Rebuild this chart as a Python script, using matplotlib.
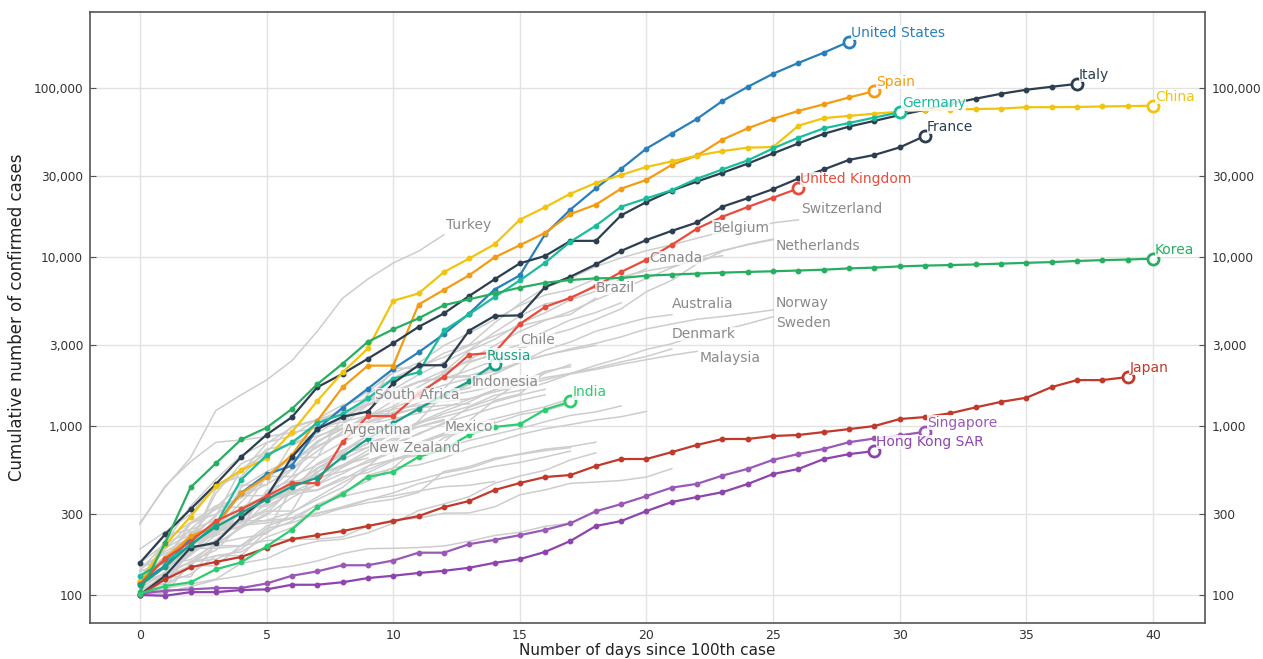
import numpy as np
import matplotlib.pyplot as plt
from matplotlib.ticker import FixedLocator, FixedFormatter, NullLocator

# cumulative confirmed cases, one value per day since the 100th case
united_states = [118, 149, 217, 262, 402, 518, 583, 959, 1281, 1663, 2179, 2726, 3499, 4632, 6421,
                 7786, 13680, 19101, 25493, 33276, 43847, 53740, 65778, 83836, 101657, 121478,
                 140886, 161807, 188172]
spain = [120, 165, 222, 259, 400, 500, 673, 1073, 1695, 2277, 2277, 5232, 6391, 7798, 9942, 11748,
         13910, 17963, 20410, 25374, 28603, 35136, 39885, 49515, 57786, 65719, 73235, 80110, 87956, 95923]
italy = [155, 229, 322, 453, 655, 888, 1128, 1694, 2036, 2502, 3089, 3858, 4636, 5883, 7375, 9172,
         10149, 12462, 12462, 17660, 21157, 24747, 27980, 31506, 35713, 41035, 47021, 53578, 59138,
         63927, 69176, 74386, 80589, 86498, 92472, 97689, 101739, 105792]
china = [121, 198, 291, 440, 548, 643, 920, 1406, 2075, 2877, 5509, 6087, 8141, 9802, 11891, 16630,
         19716, 23707, 27440, 30587, 34110, 36814, 39829, 42354, 44386, 44759, 59895, 66358, 68413,
         70513, 72434, 74211, 74619, 75077, 75550, 77001, 77022, 77241, 77754, 78166, 78600]
germany = [130, 159, 196, 262, 482, 670, 799, 1040, 1176, 1457, 1908, 2078, 3675, 4585, 5795, 7272,
           9257, 12327, 15320, 19848, 22213, 24873, 29056, 32986, 37323, 43938, 50871, 57695, 62095,
           66885, 71808]
france = [100, 130, 191, 204, 288, 380, 656, 957, 1134, 1217, 1792, 2289, 2289, 3672, 4480, 4513,
          6650, 7652, 9043, 10871, 12612, 14282, 16018, 19856, 22304, 25233, 29155, 32964, 37575,
          40174, 44550, 52128]
united_kingdom = [116, 164, 207, 274, 322, 384, 459, 459, 802, 1144, 1145, 1551, 1960, 2642, 2716,
                  4014, 5067, 5745, 6726, 8164, 9640, 11812, 14745, 17312, 19780, 22453, 25481]
korea = [104, 204, 433, 602, 833, 977, 1261, 1766, 2337, 3150, 3736, 4335, 5186, 5621, 6088, 6593,
         7041, 7314, 7478, 7513, 7755, 7869, 7979, 8086, 8162, 8236, 8320, 8413, 8565, 8652, 8799,
         8897, 8961, 9037, 9137, 9241, 9332, 9478, 9583, 9661, 9786]
japan = [100, 124, 146, 157, 168, 190, 214, 226, 239, 256, 274, 293, 331, 360, 418, 460, 499, 513,
         580, 638, 638, 701, 773, 838, 838, 873, 885, 921, 959, 1000, 1100, 1130, 1190, 1290, 1390,
         1470, 1700, 1870, 1870, 1950]
singapore = [102, 106, 108, 110, 110, 117, 130, 138, 150, 150, 160, 178, 178, 200, 212, 226, 243,
             266, 313, 345, 385, 432, 455, 509, 558, 631, 683, 732, 802, 844, 879, 926]
hong_kong = [100, 99, 104, 104, 107, 108, 115, 115, 119, 126, 130, 135, 139, 145, 155, 163, 180,
             209, 256, 274, 314, 355, 380, 406, 454, 520, 557, 638, 682, 711]
russia = [114, 147, 199, 253, 306, 367, 438, 495, 658, 840, 1036, 1264, 1534, 1836, 2337]
india = [102, 113, 119, 142, 156, 194, 244, 330, 396, 499, 536, 657, 727, 887, 987, 1024, 1251, 1397]

# grey countries with a name on the chart
turkey = [267, 435, 650, 1236, 1529, 1872, 2433, 3629, 5698, 7402, 9217, 10827, 13531]
switzerland = [114, 214, 268, 337, 374, 491, 652, 652, 1139, 1359, 2200, 2200, 2700, 3028, 4075,
               5294, 6575, 7474, 8795, 9877, 10897, 11811, 12928, 14076, 14829, 15922, 16605]
belgium = [109, 169, 200, 239, 267, 314, 314, 559, 689, 886, 1058, 1243, 1486, 1795, 2257, 2815,
           3401, 3743, 4269, 4937, 6235, 7284, 9134, 10836, 11899, 12775]
netherlands = [128, 188, 265, 321, 382, 503, 503, 806, 962, 1138, 1413, 1705, 2051, 2460, 2994,
               3631, 4216, 4764, 5580, 6438, 7468, 8647, 9819, 10930, 11817, 12667]
canada = [108, 117, 193, 198, 252, 415, 478, 657, 800, 943, 1277, 1469, 2088, 2790, 3251, 4042,
          4682, 5576, 6280, 7398, 8527]
brazil = [151, 151, 162, 200, 321, 372, 621, 793, 1021, 1546, 1924, 2247, 2554, 2985, 3417, 3904,
          4256, 4579, 5717]
australia = [107, 128, 128, 200, 250, 297, 377, 452, 568, 681, 791, 1071, 1549, 1682, 2044, 2364,
             2810, 3143, 3640, 3984, 4361, 4559]
norway = [147, 176, 205, 400, 598, 702, 996, 1090, 1221, 1333, 1463, 1550, 1746, 1914, 2118, 2385,
          2621, 2863, 3084, 3369, 3755, 4015, 4284, 4445, 4641, 4863]
sweden = [137, 161, 203, 248, 355, 500, 599, 814, 961, 1022, 1103, 1190, 1279, 1439, 1639, 1763,
          1934, 2046, 2286, 2526, 2840, 3069, 3447, 3700, 4028, 4435]
denmark = [262, 442, 615, 801, 827, 864, 914, 977, 1057, 1151, 1255, 1326, 1395, 1450, 1591, 1724,
           1877, 2046, 2201, 2395, 2577, 2860]
malaysia = [117, 129, 149, 149, 197, 238, 428, 566, 673, 790, 900, 1030, 1183, 1306, 1518, 1624,
            1796, 2031, 2161, 2320, 2470, 2626, 2766]
chile = [155, 201, 238, 238, 434, 537, 632, 746, 922, 1142, 1306, 1610, 1909, 2139, 2449, 2738]
indonesia = [117, 134, 172, 227, 311, 369, 450, 514, 579, 686, 790, 893, 1046, 1155, 1285, 1414, 1528]
south_africa = [116, 150, 202, 240, 274, 402, 554, 709, 927, 1170, 1187, 1280, 1326, 1353]
argentina = [128, 158, 266, 301, 387, 387, 502, 589, 690, 745, 820, 1054]
mexico = [118, 164, 203, 251, 316, 367, 405, 475, 585, 717, 848, 993, 1094]
new_zealand = [102, 102, 155, 205, 283, 368, 451, 514, 589, 647]

# grey countries without a name
austria = [104, 131, 182, 246, 302, 504, 655, 860, 1018, 1332, 1646, 2013, 2388, 2814, 3582, 4474,
           5283, 5588, 6909, 7657, 8271, 8788, 9618, 10180]
portugal = [112, 169, 245, 331, 448, 448, 785, 1020, 1280, 1600, 2060, 2362, 2995, 3544, 4268, 5170,
            5962, 6408, 7443]
israel = [100, 126, 193, 200, 250, 304, 427, 529, 712, 883, 1071, 1238, 1656, 2369, 2693, 3035,
          3619, 4247, 4695, 5358]
ireland = [129, 169, 223, 292, 557, 683, 785, 906, 1125, 1329, 1564, 1819, 2121, 2415, 2615, 2910, 3235]
poland = [104, 125, 177, 238, 251, 355, 425, 536, 634, 749, 901, 1051, 1221, 1389, 1638, 1862, 2055, 2311]
czechia = [116, 150, 214, 298, 383, 450, 560, 765, 889, 1047, 1161, 1287, 1472, 1763, 2022, 2395,
           2631, 2817, 3001]
luxembourg = [140, 203, 335, 484, 670, 798, 875, 1099, 1333, 1453, 1605, 1831, 1950, 1988, 2178]
thailand = [114, 147, 177, 212, 272, 322, 411, 599, 721, 827, 934, 1045, 1136, 1245, 1388, 1524, 1651]
finland = [155, 225, 244, 277, 321, 336, 400, 450, 523, 626, 700, 792, 880, 958, 1041, 1167, 1240, 1352]
philippines = [140, 142, 187, 202, 217, 230, 307, 380, 462, 552, 636, 707, 803, 1075, 1418, 1546, 2084]
pakistan = [187, 237, 301, 454, 501, 730, 776, 875, 972, 1063, 1201, 1373, 1495, 1597, 1717, 1938]
saudi_arabia = [103, 118, 133, 171, 171, 238, 274, 344, 392, 511, 562, 767, 900, 1012, 1104, 1203,
                1299, 1453, 1563]
romania = [123, 131, 158, 184, 260, 277, 308, 367, 433, 576, 762, 906, 1029, 1292, 1452, 1815, 2109, 2245]
greece = [117, 190, 228, 331, 331, 387, 418, 418, 495, 530, 624, 695, 743, 821, 892, 966, 1061,
          1156, 1212, 1314]
iceland = [103, 134, 156, 171, 180, 220, 250, 330, 409, 473, 568, 588, 648, 737, 802, 890, 963,
           1020, 1086, 1135, 1220]
bahrain = [109, 110, 189, 189, 195, 210, 214, 214, 221, 256, 278, 285, 305, 306, 332, 392, 419, 458,
           466, 476, 499, 560]
kuwait = [100, 104, 112, 123, 130, 142, 148, 159, 176, 188, 189, 191, 195, 208, 225, 235, 255, 266]
egypt = [109, 110, 150, 196, 196, 256, 285, 294, 327, 366, 402, 456, 495, 536, 576, 609, 656, 710]
iraq = [101, 110, 116, 124, 154, 164, 192, 208, 214, 233, 266, 316, 346, 382, 458, 506, 547, 630, 694]
slovenia = [141, 181, 219, 253, 275, 275, 286, 341, 383, 414, 442, 480, 528, 562, 632, 684, 730, 756, 802]
estonia = [115, 171, 205, 225, 258, 267, 283, 306, 326, 352, 369, 404, 538, 575, 645, 679, 715, 745]
peru = [117, 145, 234, 234, 318, 363, 395, 416, 480, 580, 635, 671, 852, 950, 1065]
colombia = [102, 128, 196, 231, 277, 378, 470, 491, 539, 608, 702, 798, 906]
ecuador = [111, 168, 199, 426, 532, 789, 981, 1082, 1173, 1403, 1595, 1823, 1924, 1962, 2240]
lebanon = [120, 133, 157, 163, 187, 248, 267, 304, 333, 368, 386, 412, 438, 446, 470]
panama = [109, 137, 200, 245, 313, 345, 443, 558, 674, 786, 901, 989, 1075]

highlighted = {'United States': united_states, 'Spain': spain, 'Italy': italy, 'China': china,
               'Germany': germany, 'France': france, 'United Kingdom': united_kingdom,
               'Korea': korea, 'Japan': japan, 'Singapore': singapore, 'Hong Kong SAR': hong_kong,
               'Russia': russia, 'India': india}
named_grey = {'Turkey': turkey, 'Switzerland': switzerland, 'Belgium': belgium,
              'Netherlands': netherlands, 'Canada': canada, 'Brazil': brazil,
              'Australia': australia, 'Norway': norway, 'Sweden': sweden, 'Denmark': denmark,
              'Malaysia': malaysia, 'Chile': chile, 'Indonesia': indonesia,
              'South Africa': south_africa, 'Argentina': argentina, 'Mexico': mexico,
              'New Zealand': new_zealand}
other_grey = [austria, portugal, israel, ireland, poland, czechia, luxembourg, thailand, finland,
              philippines, pakistan, saudi_arabia, romania, greece, iceland, bahrain, kuwait, egypt,
              iraq, slovenia, estonia, peru, colombia, ecuador, lebanon, panama]

x_ticks = [0, 5, 10, 15, 20, 25, 30, 35, 40]
y_ticks = [100, 300, 1000, 3000, 10000, 30000, 100000]
y_tick_labels = ['100', '300', '1,000', '3,000', '10,000', '30,000', '100,000']

colors = {'United States': '#2980b9', 'Spain': '#f39c12', 'Italy': '#2c3e50', 'China': '#f1c40f',
          'Germany': '#1abc9c', 'France': '#2c3e50', 'United Kingdom': '#e74c3c',
          'Korea': '#27ae60', 'Japan': '#c0392b', 'Singapore': '#9b59b6',
          'Hong Kong SAR': '#8e44ad', 'Russia': '#16a085', 'India': '#2ecc71'}
label_shift = {'Russia': (-8, 8)}

# where the grey names sit (day, cases)
grey_label_at = {'Turkey': (12.1, 15500), 'Switzerland': (26.1, 19200), 'Belgium': (22.6, 14900),
                 'Netherlands': (25.1, 11600), 'Canada': (20.1, 9860), 'Brazil': (18.0, 6560),
                 'Australia': (21.0, 5270), 'Norway': (25.1, 5350), 'Sweden': (25.1, 4070),
                 'Denmark': (21.0, 3500), 'Malaysia': (22.1, 2520), 'Chile': (15.0, 3230),
                 'Indonesia': (13.1, 1820), 'South Africa': (9.3, 1520), 'Argentina': (8.05, 946),
                 'Mexico': (12.05, 986), 'New Zealand': (9.05, 741)}

fig = plt.figure(figsize=(12.63, 6.59), dpi=100)
ax = fig.add_axes([90 / 1263, 1 - 623 / 659, 1115 / 1263, 611 / 659])
ax.set_yscale('log')

for vals in other_grey + list(named_grey.values()):
    ax.plot(np.arange(len(vals)), vals, color='#cdcdcd', lw=1.1, zorder=2)

for name, (dx, cy) in grey_label_at.items():
    ax.text(dx, cy, name, color='#8a8a8a', fontsize=10, ha='left', va='center', zorder=5,
            bbox=dict(facecolor='white', edgecolor='none', pad=0.3, alpha=0.75))

for name, vals in highlighted.items():
    c = colors[name]
    days = np.arange(len(vals))
    ax.plot(days, vals, color=c, lw=1.6, marker='o', ms=3.2, zorder=3)
    ax.plot(days[-1], vals[-1], 'o', ms=8, mfc='white', mec=c, mew=2, zorder=4)
    ax.annotate(name, (days[-1], vals[-1]), xytext=label_shift.get(name, (2, 9)),
                textcoords='offset pixels', color=c, fontsize=10, ha='left', va='center',
                zorder=6, bbox=dict(facecolor='white', edgecolor='none', pad=0.3, alpha=0.85))

ax.set_xlim(-1.97, 42.05)
ax.set_ylim(68.3, 281700)
ax.xaxis.set_major_locator(FixedLocator(x_ticks))
ax.yaxis.set_major_locator(FixedLocator(y_ticks))
ax.yaxis.set_major_formatter(FixedFormatter(y_tick_labels))
ax.yaxis.set_minor_locator(NullLocator())
ax.tick_params(axis='y', which='both', direction='in', length=4, color='#555555',
               labelsize=8.7, labelcolor='#333333', left=True, right=True,
               labelleft=True, labelright=True, pad=5)
ax.tick_params(axis='x', direction='in', length=0, labelsize=9, labelcolor='#333333', pad=4)
ax.grid(True, color='#e2e2e2', lw=1)
ax.set_axisbelow(True)
for s in ax.spines.values():
    s.set_color('#555555')
    s.set_linewidth(1.2)

ax.set_xlabel('Number of days since 100th case', fontsize=11, color='#222222', labelpad=1)
ax.set_ylabel('Cumulative number of confirmed cases', fontsize=12, color='#222222', labelpad=5)

plt.savefig('out.png', dpi=100)
